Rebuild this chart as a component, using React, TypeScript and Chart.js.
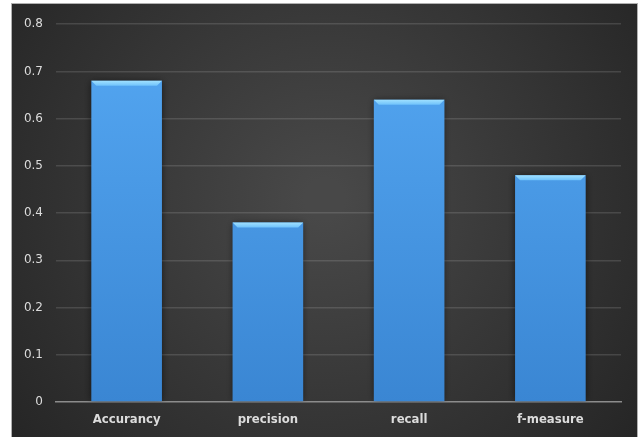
import React, { useEffect, useRef } from "react";
import { Chart, registerables } from "chart.js";

Chart.register(...registerables);

const categories = ["Accurancy", "precision", "recall", "f-measure"];
const values = [0.68, 0.38, 0.64, 0.48];
const yTicks = [0, 0.1, 0.2, 0.3, 0.4, 0.5, 0.6, 0.7, 0.8];

const bgPlugin = {
  id: "bgPlugin",
  beforeDraw(chart: any) {
    const { ctx, width, height } = chart;
    ctx.save();
    const g = ctx.createRadialGradient(width * 0.5, height * 0.45, 20, width * 0.5, height * 0.45, width * 0.62);
    g.addColorStop(0, "#484848");
    g.addColorStop(1, "#262626");
    ctx.fillStyle = g;
    ctx.fillRect(0, 0, width, height);
    ctx.restore();
  },
  beforeDatasetsDraw(chart: any) {
    const ctx = chart.ctx;
    ctx.save();
    ctx.shadowColor = "rgba(0,0,0,0.55)";
    ctx.shadowBlur = 7;
    ctx.shadowOffsetX = 0;
    ctx.shadowOffsetY = 0;
  },
  afterDatasetsDraw(chart: any) {
    const ctx = chart.ctx;
    ctx.restore();
    const meta = chart.getDatasetMeta(0);
    ctx.save();
    meta.data.forEach((bar: any) => {
      const w = bar.width;
      const left = bar.x - w / 2;
      const right = bar.x + w / 2;
      const top = bar.y;
      const h = 5;
      const g = ctx.createLinearGradient(0, top, 0, top + h);
      g.addColorStop(0, "#9fe0ff");
      g.addColorStop(1, "#6fc2fb");
      ctx.fillStyle = g;
      ctx.beginPath();
      ctx.moveTo(left, top);
      ctx.lineTo(right, top);
      ctx.lineTo(right - h, top + h);
      ctx.lineTo(left + h, top + h);
      ctx.closePath();
      ctx.fill();
    });
    ctx.restore();
  },
};

export default function App() {
  const ref = useRef<HTMLCanvasElement>(null);
  useEffect(() => {
    if (!ref.current) return;
    const chart = new Chart(ref.current, {
      type: "bar",
      data: {
        labels: categories,
        datasets: [
          {
            data: values,
            backgroundColor: (c: any) => {
              const area = c.chart.chartArea;
              if (!area) return "#4a9eea";
              const g = c.chart.ctx.createLinearGradient(0, area.top, 0, area.bottom);
              g.addColorStop(0, "#55a8f3");
              g.addColorStop(1, "#3a86d3");
              return g;
            },
            borderWidth: 0,
            categoryPercentage: 0.5,
            barPercentage: 1.0,
          },
        ],
      },
      options: {
        animation: false,
        responsive: false,
        maintainAspectRatio: false,
        layout: { padding: { top: 20, right: 16, left: 0, bottom: 0 } },
        plugins: { legend: { display: false }, tooltip: { enabled: false }, title: { display: false } },
        scales: {
          x: {
            grid: { display: false, drawTicks: false },
            border: { display: true, color: "#8c8c8c", width: 1.5 },
            ticks: {
              color: "#dcdcdc",
              padding: 10,
              font: { family: "'DejaVu Sans Condensed', 'Liberation Sans Narrow', sans-serif", size: 13, weight: "bold" },
            },
            afterFit: (s: any) => {
              s.height = 35;
            },
          },
          y: {
            min: 0,
            max: 0.8,
            afterBuildTicks: (s: any) => {
              s.ticks = yTicks.map((v) => ({ value: v }));
            },
            grid: {
              drawTicks: false,
              color: (c: any) => (c.tick && c.tick.value === 0 ? "rgba(0,0,0,0)" : "rgba(255,255,255,0.13)"),
              lineWidth: 1.5,
            },
            border: { display: false },
            ticks: {
              color: "#dcdcdc",
              padding: 13,
              callback: (v: any) => (v === 0 ? "0" : Number(v).toFixed(1)),
              font: { family: "'DejaVu Sans', sans-serif", size: 12 },
            },
            afterFit: (s: any) => {
              s.width = 44;
            },
          },
        },
      },
      plugins: [bgPlugin],
    });
    return () => chart.destroy();
  }, []);
  return (
    <div style={{ position: "fixed", left: 0, top: 0, width: 642, height: 437, background: "#fff" }}>
      <canvas
        ref={ref}
        width={625}
        height={433}
        style={{ position: "absolute", left: 12, top: 4, width: 625, height: 433, outline: "1px solid #b0b0b0" }}
      />
    </div>
  );
}
